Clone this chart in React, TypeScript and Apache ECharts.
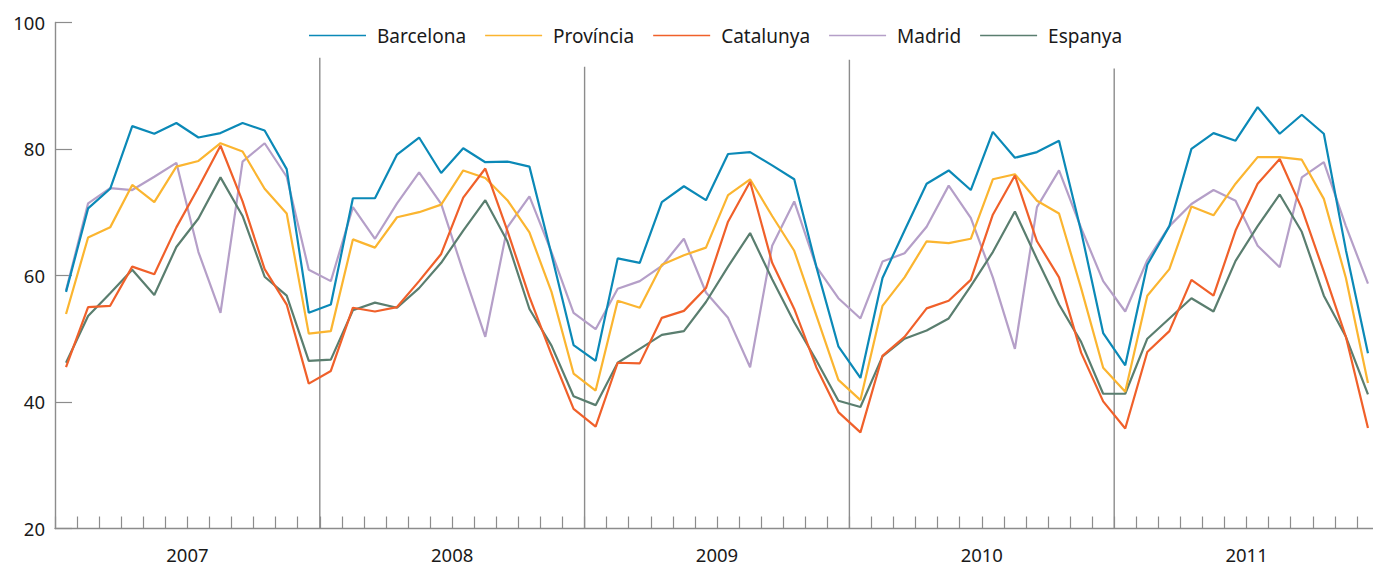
import React, { useEffect, useRef } from "react";
import * as echarts from "echarts";

const years = ["2007", "2008", "2009", "2010", "2011"];
const months = years.flatMap((y) =>
  ["01", "02", "03", "04", "05", "06", "07", "08", "09", "10", "11", "12"].map((m) => `${y}-${m}`)
);

const barcelona = [
  57.4, 70.6, 73.7, 83.6, 82.4, 84.1, 81.8, 82.5, 84.1, 82.9, 76.8, 54.1,
  55.4, 72.2, 72.2, 79.1, 81.8, 76.2, 80.1, 77.9, 78.0, 77.2, 63.3, 49.0,
  46.5, 62.7, 62.0, 71.6, 74.1, 71.9, 79.2, 79.5, 77.4, 75.2, 61.4, 48.8,
  43.8, 59.6, 67.1, 74.5, 76.6, 73.5, 82.7, 78.6, 79.5, 81.3, 67.0, 50.9,
  45.8, 61.7, 67.8, 80.0, 82.5, 81.3, 86.6, 82.4, 85.4, 82.4, 64.0, 47.7,
];
const provincia = [
  53.9, 66.0, 67.6, 74.3, 71.6, 77.2, 78.1, 80.9, 79.6, 73.7, 69.8, 50.8,
  51.2, 65.7, 64.4, 69.2, 70.0, 71.2, 76.6, 75.4, 71.9, 66.8, 57.4, 44.5,
  41.8, 56.0, 54.9, 61.7, 63.2, 64.4, 72.7, 75.2, 69.4, 63.9, 53.7, 43.5,
  40.3, 55.2, 59.7, 65.4, 65.1, 65.8, 75.2, 76.0, 71.8, 69.8, 58.0, 45.4,
  41.6, 56.8, 61.0, 70.9, 69.5, 74.5, 78.7, 78.7, 78.3, 72.1, 59.6, 43.0,
];
const catalunya = [
  45.5, 55.0, 55.2, 61.4, 60.2, 67.6, 73.9, 80.5, 71.7, 61.0, 55.4, 42.9,
  44.9, 54.9, 54.3, 55.0, 59.1, 63.4, 72.3, 76.9, 67.1, 56.6, 47.5, 38.9,
  36.1, 46.2, 46.1, 53.3, 54.4, 58.0, 68.5, 74.8, 62.0, 54.7, 45.5, 38.4,
  35.2, 47.3, 50.3, 54.8, 56.0, 59.3, 69.6, 75.8, 65.4, 59.7, 47.8, 40.1,
  35.8, 47.9, 51.2, 59.3, 56.8, 67.1, 74.5, 78.4, 70.6, 60.6, 50.3, 35.9,
];
const madrid = [
  57.6, 71.4, 73.8, 73.5, 75.6, 77.8, 63.7, 54.1, 78.0, 80.9, 75.6, 60.9,
  59.1, 70.8, 65.8, 71.4, 76.3, 71.3, 60.6, 50.3, 67.6, 72.5, 63.7, 54.1,
  51.5, 57.9, 59.1, 61.5, 65.8, 57.3, 53.3, 45.5, 64.7, 71.7, 61.4, 56.4,
  53.2, 62.2, 63.5, 67.7, 74.2, 69.1, 59.7, 48.4, 70.8, 76.6, 67.5, 59.1,
  54.3, 62.4, 67.8, 71.3, 73.5, 71.8, 64.7, 61.3, 75.5, 77.9, 67.8, 58.7,
];
const espanya = [
  46.2, 53.6, 57.2, 60.9, 56.9, 64.5, 69.0, 75.5, 69.4, 59.8, 56.8, 46.5,
  46.7, 54.5, 55.7, 54.9, 58.0, 62.0, 67.1, 71.9, 65.4, 54.7, 48.9, 40.9,
  39.5, 46.2, 48.4, 50.6, 51.2, 55.8, 61.4, 66.7, 59.4, 52.6, 46.6, 40.2,
  39.2, 47.2, 50.0, 51.3, 53.2, 58.3, 63.7, 70.1, 62.6, 55.4, 49.5, 41.3,
  41.3, 50.0, 53.2, 56.4, 54.3, 62.3, 67.8, 72.8, 66.9, 56.8, 50.3, 41.2,
];

// year separators: position between Dec and Jan (category index), top value
const separatorPos = [11.5, 23.5, 35.5, 47.5];
const separatorTop = [94.4, 93.0, 94.1, 92.7];

const seriesNames = ["Barcelona", "Província", "Catalunya", "Madrid", "Espanya"];
const colors: Record<string, string> = {
  Barcelona: "#0b89b7",
  Província: "#fbb530",
  Catalunya: "#f0602a",
  Madrid: "#b59fc8",
  Espanya: "#5a7e6f",
};
const seriesData: Record<string, number[]> = {
  Barcelona: barcelona,
  Província: provincia,
  Catalunya: catalunya,
  Madrid: madrid,
  Espanya: espanya,
};
const drawOrder = ["Madrid", "Espanya", "Província", "Catalunya", "Barcelona"];

const FONT = "'Noto Sans', 'Open Sans', sans-serif";
const GRAY = "#8c8c8c";
const TEXT = "#1a1a1a";

export default function App() {
  const ref = useRef<HTMLDivElement>(null);
  useEffect(() => {
    document.body.style.margin = "0";
    if (!ref.current) return;
    const chart = echarts.init(ref.current, undefined, { renderer: "svg" });
    const lineSeries = drawOrder.map((name) => ({
      name,
      type: "line",
      xAxisIndex: 0,
      yAxisIndex: 0,
      data: seriesData[name],
      symbol: "none",
      showSymbol: false,
      lineStyle: { color: colors[name], width: 2.2 },
      itemStyle: { color: colors[name] },
      emphasis: { disabled: true },
    }));
    chart.setOption({
      animation: false,
      textStyle: { fontFamily: FONT },
      legend: {
        data: seriesNames,
        left: 304,
        top: 21,
        icon: "rect",
        itemWidth: 57,
        itemHeight: 1.6,
        itemGap: 19,
        formatter: (n: string) => `{t|${n}}`,
        textStyle: {
          rich: {
            t: { fontSize: 19, fontFamily: FONT, color: TEXT, padding: [0, 0, 0, 6] },
          },
        },
        selectedMode: false,
      },
      grid: { left: 55, top: 22.4, width: 1324, height: 506.1, containLabel: false },
      xAxis: [
        {
          type: "category",
          data: months,
          boundaryGap: true,
          position: "bottom",
          axisLine: { show: true, onZero: false, lineStyle: { color: GRAY, width: 1.4 } },
          axisTick: { show: true, inside: true, length: 12, interval: 0, lineStyle: { color: GRAY, width: 1.2 } },
          axisLabel: { show: false },
          splitLine: { show: false },
        },
        {
          type: "category",
          data: years,
          boundaryGap: true,
          position: "bottom",
          axisLine: { show: false, onZero: false },
          axisTick: { show: false },
          axisLabel: { show: true, fontSize: 18.5, fontFamily: FONT, color: TEXT, margin: 16 },
          splitLine: { show: false },
        },
        {
          type: "value",
          min: -0.5,
          max: 59.5,
          show: false,
          axisLine: { onZero: false },
          splitLine: { show: false },
        },
      ],
      yAxis: {
        type: "value",
        min: 20,
        max: 100,
        interval: 20,
        axisLine: { show: true, onZero: false, lineStyle: { color: GRAY, width: 1.4 } },
        axisTick: { show: true, inside: true, length: 17, lineStyle: { color: GRAY, width: 1.2 } },
        axisLabel: { fontSize: 18.5, fontFamily: FONT, color: TEXT, margin: 10 },
        splitLine: { show: false },
      },
      series: [
        {
          type: "custom",
          xAxisIndex: 2,
          yAxisIndex: 0,
          silent: true,
          data: separatorPos.map((p, i) => [p, separatorTop[i]]),
          renderItem: (params: any, api: any) => {
            const x = api.value(0);
            const top = api.coord([x, api.value(1)]);
            const bottom = api.coord([x, 20]);
            return {
              type: "line",
              shape: { x1: top[0], y1: top[1], x2: bottom[0], y2: bottom[1] },
              style: { stroke: GRAY, lineWidth: 1.4 },
            };
          },
        },
        ...lineSeries,
      ],
    });
    return () => chart.dispose();
  }, []);
  return (
    <div style={{ width: 1373, height: 565, overflow: "hidden", position: "relative" }}>
      <div ref={ref} style={{ width: 1390, height: 565 }} />
    </div>
  );
}
